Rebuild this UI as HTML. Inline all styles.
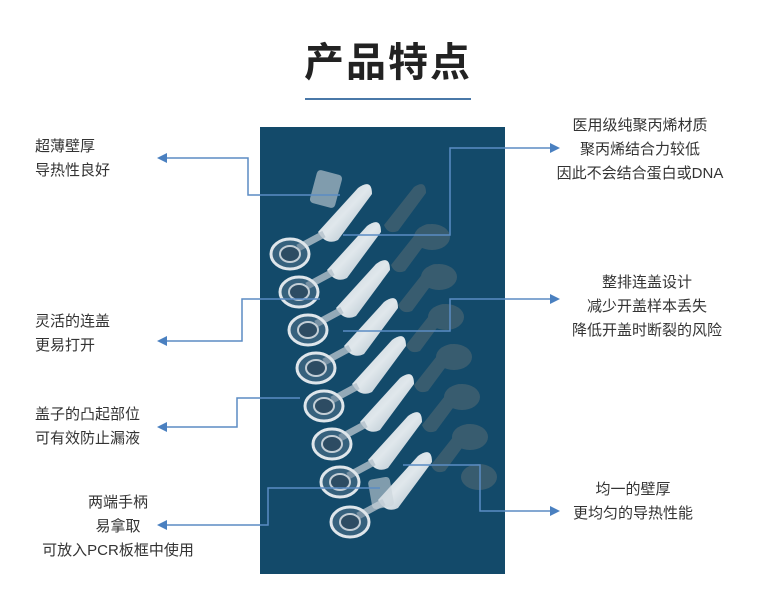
<!DOCTYPE html>
<html><head><meta charset="utf-8"><style>
body{margin:0;width:766px;height:605px;background:#fff;position:relative;overflow:hidden;font-family:"Liberation Sans","Noto Sans CJK SC",sans-serif;color:#333}
.t{position:absolute;font-size:15px;line-height:24px;white-space:nowrap}
h1{position:absolute;left:0;width:776px;top:30px;margin:0;text-align:center;font-size:40px;font-weight:bold;color:#222;letter-spacing:2px}
</style></head><body>
<h1>产品特点</h1>
<svg width="766" height="605" style="position:absolute;left:0;top:0">
<line x1="305" y1="99" x2="471" y2="99" stroke="#4a78a8" stroke-width="2"/>
<rect x="260" y="127" width="245" height="447" fill="#134a6a"/>
<defs>
<linearGradient id="g" x1="0" y1="0" x2="1" y2="1"><stop offset="0" stop-color="#c8d2da"/><stop offset=".5" stop-color="#f2f5f7"/><stop offset="1" stop-color="#a9bac6"/></linearGradient>
<g id="tube">
<path d="M-20,22 L20,-22 Q34,-32 34,-16 L0,30 Q-12,36 -20,22 Z" fill="url(#g)" opacity=".92"/>
<line x1="-40" y1="38" x2="-14" y2="24" stroke="#b5c2cc" stroke-width="7" opacity=".8"/>
<ellipse cx="-48" cy="44" rx="19" ry="15" fill="#5a7890" fill-opacity=".5" stroke="#dfe6eb" stroke-width="3"/>
<ellipse cx="-48" cy="44" rx="10" ry="8" fill="#2d4c63" stroke="#c3ced6" stroke-width="2"/>
</g>
<g id="back">
<path d="M-14,20 L16,-18 Q28,-26 28,-12 L0,26 Q-10,30 -14,20 Z" fill="#7d807a"/>
<ellipse cx="34" cy="32" rx="18" ry="13" fill="#7d807a"/>
</g>
</defs>
<g opacity=".35">
<use href="#back" x="398" y="205"/><use href="#back" x="405" y="245"/><use href="#back" x="412" y="285"/>
<use href="#back" x="420" y="325"/><use href="#back" x="428" y="365"/><use href="#back" x="436" y="405"/><use href="#back" x="445" y="445"/>
</g>
<rect x="313" y="172" width="26" height="34" rx="4" fill="#c9d3da" opacity=".6" transform="rotate(15 326 189)"/>
<use href="#tube" x="338" y="210"/>
<use href="#tube" x="347" y="248"/>
<use href="#tube" x="356" y="286"/>
<use href="#tube" x="364" y="324"/>
<use href="#tube" x="372" y="362"/>
<use href="#tube" x="380" y="400"/>
<use href="#tube" x="388" y="438"/>
<use href="#tube" x="398" y="478"/>
<rect x="370" y="478" width="22" height="30" rx="4" fill="#c9d3da" opacity=".6" transform="rotate(-10 381 493)"/>
<g fill="none" stroke="#5b8cc4" stroke-width="1.5">
<polyline points="340,195 248,195 248,158 165,158"/>
<polyline points="343,235 450,235 450,148 552,148"/>
<polyline points="320,299 242,299 242,341 165,341"/>
<polyline points="343,331 450,331 450,299 552,299"/>
<polyline points="300,398 237,398 237,427 165,427"/>
<polyline points="380,488 268,488 268,525 165,525"/>
<polyline points="403,465 480,465 480,511 552,511"/>
</g>
<g fill="#4a80c0">
<polygon points="157,158 167,153 167,163"/>
<polygon points="157,341 167,336 167,346"/>
<polygon points="157,427 167,422 167,432"/>
<polygon points="157,525 167,520 167,530"/>
<polygon points="560,148 550,143 550,153"/>
<polygon points="560,299 550,294 550,304"/>
<polygon points="560,511 550,506 550,516"/>
</g>
</svg>
<div class="t" style="left:35px;top:135px">超薄壁厚<br>导热性良好</div>
<div class="t" style="left:35px;top:310px">灵活的连盖<br>更易打开</div>
<div class="t" style="left:35px;top:403px">盖子的凸起部位<br>可有效防止漏液</div>
<div class="t" style="left:18px;top:491px;width:200px;text-align:center">两端手柄<br>易拿取<br>可放入PCR板框中使用</div>
<div class="t" style="left:540px;top:114px;width:200px;text-align:center">医用级纯聚丙烯材质<br>聚丙烯结合力较低<br>因此不会结合蛋白或DNA</div>
<div class="t" style="left:547px;top:271px;width:200px;text-align:center">整排连盖设计<br>减少开盖样本丢失<br>降低开盖时断裂的风险</div>
<div class="t" style="left:533px;top:478px;width:200px;text-align:center">均一的壁厚<br>更均匀的导热性能</div>
</body></html>
